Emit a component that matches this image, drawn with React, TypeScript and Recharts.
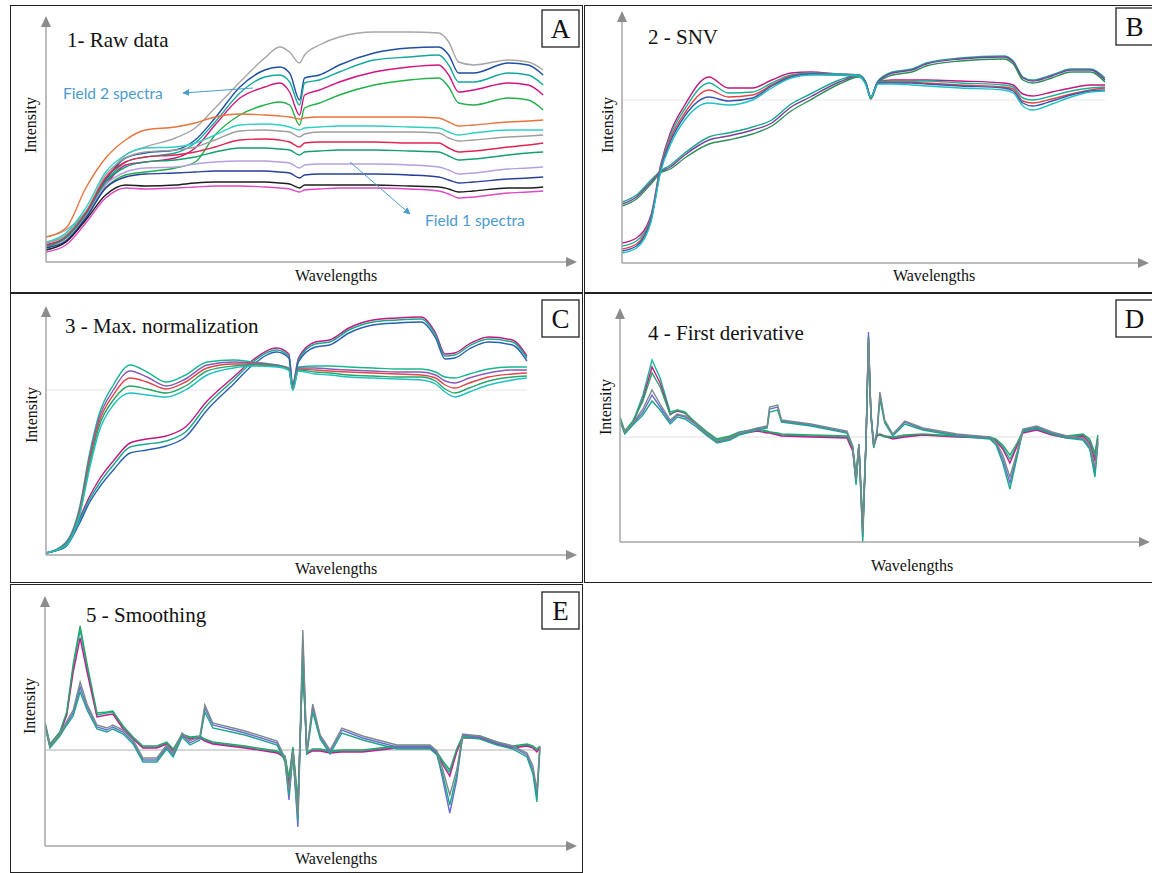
import React from "react"
import { LineChart, Line, XAxis, YAxis, ReferenceLine } from "recharts"

// ---- 1: raw data (band index, intensity) ----
const rawBands = [0, 4, 8, 12, 16, 20, 26, 30, 34, 39, 44, 47, 49, 51, 52, 55, 59, 66, 73, 79, 81, 83, 86, 93, 97, 100]
const rawField2 = {
  f2a: [25, 32, 50, 84, 107, 115, 124, 134, 154, 180, 204, 215, 210, 199, 207, 217, 225, 230, 230, 229, 220, 200, 197, 202, 200, 192],
  f2b: [17, 25, 49, 82, 104, 109, 112, 122, 144, 175, 192, 195, 189, 162, 184, 187, 197, 209, 214, 215, 207, 189, 189, 199, 197, 187],
  f2c: [19, 27, 50, 80, 100, 105, 109, 119, 140, 169, 185, 187, 180, 157, 179, 182, 190, 202, 205, 207, 197, 180, 180, 189, 187, 177],
  f2d: [15, 24, 47, 77, 97, 100, 104, 114, 137, 164, 175, 179, 170, 147, 167, 172, 180, 190, 195, 197, 187, 170, 172, 179, 177, 167],
  f2e: [12, 20, 44, 74, 87, 90, 94, 100, 127, 147, 157, 160, 157, 137, 154, 159, 167, 177, 182, 184, 175, 159, 157, 164, 162, 152],
}
const rawField1 = {
  f1a: [25, 34, 74, 104, 122, 132, 135, 139, 145, 148, 147, 146, 145, 143, 144, 145, 145, 145, 145, 144, 140, 136, 137, 140, 141, 142],
  f1b: [20, 29, 54, 90, 107, 114, 115, 119, 127, 137, 138, 137, 135, 132, 134, 135, 136, 136, 135, 134, 130, 127, 129, 132, 132, 132],
  f1c: [19, 27, 50, 87, 104, 110, 112, 115, 122, 131, 132, 131, 130, 125, 128, 130, 130, 130, 130, 129, 124, 121, 122, 125, 126, 127],
  f1d: [17, 25, 49, 84, 100, 105, 107, 110, 115, 122, 123, 122, 120, 115, 119, 120, 120, 120, 119, 119, 114, 110, 111, 115, 117, 119],
  f1e: [15, 24, 47, 80, 95, 100, 102, 105, 110, 114, 114, 113, 112, 107, 110, 111, 112, 112, 111, 110, 106, 102, 103, 107, 109, 110],
  f1f: [14, 22, 45, 77, 90, 94, 95, 98, 100, 101, 101, 100, 99, 94, 97, 98, 98, 98, 97, 95, 92, 88, 89, 93, 94, 95],
  f1g: [14, 21, 44, 74, 85, 88, 89, 90, 91, 91, 91, 90, 89, 84, 87, 88, 88, 88, 87, 85, 82, 79, 80, 83, 84, 85],
  f1h: [12, 20, 42, 67, 77, 76, 77, 79, 80, 80, 80, 79, 78, 74, 77, 77, 77, 77, 76, 75, 73, 70, 71, 74, 74, 75],
  f1i: [10, 17, 39, 64, 74, 73, 74, 75, 76, 76, 75, 74, 73, 70, 72, 73, 74, 74, 73, 71, 68, 64, 65, 69, 70, 71],
}

// ---- 2: SNV ----
const snvBands = [0, 3, 6, 8, 10, 13, 18, 22, 27, 31, 35, 39, 45, 49, 50.5, 51.5, 53, 56, 60, 63, 70, 79, 81, 83, 85, 89, 93, 97, 100]
const snvGentle = {
  g1: [61, 68, 83, 92, 98, 110, 126, 130, 136, 143, 159, 169, 183, 188, 181, 166, 182, 191, 194, 200, 205, 207, 202, 186, 183, 188, 194, 194, 185],
  g2: [59, 66, 81, 91, 96, 108, 123, 127, 133, 140, 156, 166, 181, 187, 180, 165, 181, 190, 193, 199, 204, 206, 201, 185, 182, 187, 193, 193, 183],
  g3: [57, 64, 79, 90, 94, 105, 119, 123, 129, 137, 152, 163, 179, 186, 179, 164, 180, 188, 191, 197, 202, 204, 199, 183, 180, 185, 191, 191, 181],
}
const snvSteep = {
  s1: [20, 25, 48, 98, 130, 158, 186, 175, 175, 183, 190, 191, 189, 188, 180, 165, 181, 183, 183, 183, 182, 180, 178, 169, 167, 171, 175, 178, 178],
  s2: [17, 22, 46, 96, 127, 154, 180, 170, 171, 180, 188, 190, 189, 188, 180, 165, 181, 182, 182, 182, 180, 178, 176, 165, 163, 167, 172, 175, 176],
  s3: [14, 19, 44, 94, 124, 150, 173, 166, 168, 178, 187, 189, 188, 187, 179, 166, 180, 181, 181, 180, 178, 176, 174, 162, 160, 164, 169, 173, 175],
  s4: [12, 17, 43, 93, 121, 147, 166, 162, 165, 177, 186, 189, 188, 187, 179, 166, 180, 180, 180, 179, 177, 175, 172, 160, 157, 162, 168, 172, 173],
  s5: [10, 15, 41, 91, 118, 143, 160, 158, 163, 175, 185, 188, 188, 187, 178, 166, 179, 179, 178, 177, 175, 173, 170, 157, 153, 159, 166, 171, 172],
}

// ---- 3: max normalization ----
const maxBands = [0, 4, 7, 9, 11, 14, 17.5, 21, 25, 29, 33.5, 39, 43, 48, 50.5, 51.3, 52.5, 56, 59, 63, 68, 73, 78, 81, 83, 85, 88, 92, 97, 100]
const maxGentle = {
  g1: [2, 9, 37, 58, 75, 94, 112, 116, 119, 128, 154, 178, 195, 207, 201, 171, 197, 213, 215, 227, 235, 237, 238, 222, 201, 202, 211, 218, 215, 199],
  g2: [2, 8, 35, 55, 71, 90, 108, 111, 114, 123, 150, 175, 193, 205, 199, 170, 195, 211, 213, 225, 233, 235, 236, 220, 199, 200, 209, 216, 213, 197],
  g3: [2, 8, 32, 52, 67, 85, 102, 105, 109, 118, 145, 171, 190, 203, 197, 169, 193, 208, 210, 222, 230, 232, 233, 217, 196, 197, 206, 213, 210, 194],
}
const maxSteep = {
  s1: [2, 12, 48, 100, 140, 170, 190, 183, 173, 180, 193, 195, 193, 190, 187, 167, 188, 189, 189, 188, 187, 186, 186, 183, 178, 177, 181, 186, 188, 188],
  s2: [2, 11, 46, 96, 136, 165, 184, 178, 169, 176, 190, 193, 192, 190, 186, 166, 187, 187, 186, 185, 184, 183, 183, 180, 174, 172, 177, 182, 185, 185],
  s3: [2, 10, 44, 93, 132, 160, 177, 173, 166, 173, 187, 191, 191, 189, 186, 166, 186, 185, 184, 183, 182, 181, 180, 177, 170, 167, 172, 178, 181, 182],
  s4: [2, 10, 42, 89, 128, 155, 169, 166, 162, 169, 184, 189, 190, 189, 185, 165, 185, 183, 182, 180, 179, 178, 178, 174, 166, 162, 167, 174, 178, 179],
  s5: [2, 9, 40, 85, 123, 150, 162, 160, 158, 165, 180, 187, 189, 188, 185, 165, 184, 181, 180, 178, 177, 176, 175, 171, 163, 158, 163, 170, 175, 177],
}

// ---- 4: first derivative ----
const derBands = [0, 1, 2.7, 4.8, 6.7, 8.4, 10.5, 12, 13.6, 16, 18, 20.3, 23, 25, 28.7, 30.8, 31.3, 33, 33.8, 40, 47.5, 48.7, 49.4, 50, 50.8, 51.5, 52, 52.5, 53.1, 53.8, 54.4, 55.4, 57.1, 59.6, 63.4, 70.5, 77.4, 78.7, 80.1, 81.6, 83.1, 84.3, 87.2, 90.4, 93.5, 96.9, 98.3, 99.4, 100]
const derField1 = {
  h1: [19, 5, 15, 42, 77, 59, 25, 27, 25, 13, 5, -3, 0, 4, 7, 5, 5, 3, 2, 1, 0, -12, -40, -8, -90, -3, 95, 25, -8, 2, 2, 0, -1, 1, 2, 1, 0, -3, -10, -22, -8, 5, 8, 3, 0, 2, -4, -20, 0],
  h2: [18, 4, 14, 38, 70, 54, 23, 26, 24, 12, 4, -5, -1, 3, 6, 4, 4, 2, 1, 0, -1, -14, -45, -9, -95, -4, 100, 24, -9, 1, 3, 1, -2, 0, 2, 0, -1, -4, -12, -26, -9, 4, 7, 2, -1, 1, -6, -24, -2],
  h3: [20, 6, 16, 36, 64, 50, 22, 27, 24, 14, 6, -2, 1, 5, 8, 6, 5, 4, 3, 2, 1, -10, -36, -7, -85, -2, 90, 26, -7, 3, 2, 1, 0, 2, 3, 1, 0, -2, -8, -18, -6, 6, 9, 4, 1, 3, -2, -16, 2],
}
const derField2 = {
  l1: [17, 4, 13, 25, 42, 30, 15, 22, 20, 12, 3, -5, -2, 3, 8, 10, 28, 30, 16, 12, 5, -10, -45, -8, -100, -2, 105, 22, -10, 5, 42, 16, 2, 15, 8, 2, -1, -6, -22, -46, -18, 7, 10, 4, 0, -2, -10, -35, -5],
  l2: [16, 3, 12, 22, 36, 27, 13, 20, 18, 10, 2, -6, -3, 2, 7, 9, 25, 27, 15, 11, 4, -11, -48, -9, -105, -3, 100, 20, -11, 4, 38, 14, 1, 13, 7, 1, -2, -8, -26, -52, -20, 6, 9, 3, -1, -3, -12, -40, -7],
  l3: [18, 5, 14, 28, 47, 33, 17, 23, 21, 13, 4, -4, -1, 4, 9, 11, 30, 32, 17, 13, 6, -9, -42, -7, -95, -1, 98, 23, -9, 6, 45, 17, 3, 16, 9, 3, 0, -5, -18, -40, -15, 8, 11, 5, 1, -1, -8, -30, -4],
}

// ---- 5: smoothing ----
const smoBands = [0, 1, 3, 4.4, 5.7, 7.1, 8.5, 10.5, 12.5, 13.7, 15.8, 17.8, 19.8, 22.6, 24.6, 25.9, 27.7, 29.3, 31.3, 32.3, 33.9, 40.4, 46.9, 48.5, 49.3, 50.1, 51.1, 52.1, 52.9, 54.1, 55.6, 57.6, 60, 64.2, 71.1, 77.8, 79.2, 80.4, 81.8, 83.2, 84.4, 87.9, 91.3, 94.5, 97.4, 98.6, 99.4, 100]
const smoField1 = {
  h1: [27, 5, 17, 37, 83, 120, 83, 35, 37, 38, 23, 12, 3, 3, 7, 0, 15, 12, 13, 10, 7, 3, -2, -7, -30, 2, -55, 90, -3, 0, 0, -2, -1, -1, 3, 3, -3, -13, -23, 0, 13, 13, 7, 3, 5, 3, 0, 3],
  h2: [25, 4, 16, 35, 78, 112, 78, 33, 35, 36, 21, 11, 2, 2, 6, -1, 14, 11, 12, 9, 6, 2, -3, -8, -34, 1, -60, 95, -4, -1, -1, -3, -2, -2, 2, 2, -4, -15, -26, -2, 12, 12, 6, 2, 4, 2, -2, 2],
  h3: [28, 6, 18, 38, 86, 124, 86, 37, 38, 39, 24, 13, 4, 4, 8, 1, 16, 13, 14, 11, 8, 4, -1, -6, -28, 3, -50, 85, -2, 1, 1, -1, 0, 0, 4, 4, -2, -11, -20, 1, 14, 14, 8, 4, 6, 4, 1, 4],
}
const smoField2 = {
  l1: [25, 3, 15, 27, 37, 63, 43, 23, 20, 23, 18, 8, -10, -10, 3, -5, 15, 7, 12, 42, 25, 17, 7, -10, -50, -3, -77, 110, -3, 43, 13, -2, 20, 12, 3, 3, -3, -30, -63, -30, 15, 13, 7, 3, -5, -20, -47, 3],
  l2: [24, 2, 14, 25, 34, 58, 40, 21, 18, 21, 16, 6, -12, -12, 1, -7, 13, 5, 10, 38, 22, 15, 5, -12, -45, -5, -70, 100, -5, 38, 11, -4, 17, 10, 1, 1, -5, -25, -55, -25, 13, 11, 5, 1, -7, -24, -52, 0],
  l3: [26, 4, 16, 29, 40, 68, 46, 25, 22, 25, 20, 10, -8, -8, 5, -3, 17, 9, 14, 45, 27, 19, 9, -8, -40, -1, -65, 120, -1, 46, 15, 0, 22, 14, 5, 5, -1, -20, -45, -20, 16, 14, 8, 4, -3, -16, -40, 4],
}

type SeriesMap = Record<string, number[]>

interface PanelDef {
  letter: string
  title: string
  frame: { x: number; y: number; w: number; h: number }
  axisX: number
  axisY: number
  topY: number
  rightX: number
  xMax: number
  yDomain: [number, number]
  bands: number[]
  series: SeriesMap
  colors: string[]
  curve: "monotone" | "linear"
  refY?: number
  refColor?: string
  titleAt: [number, number]
  labelAt: [number, number]
  waveAt: [number, number]
  intensityAt: [number, number]
}

const panels: PanelDef[] = [
  {
    letter: "A", title: "1- Raw data",
    frame: { x: 10, y: 5, w: 573, h: 288 },
    axisX: 46, axisY: 262, topY: 18, rightX: 575, xMax: 106.4, yDomain: [0, 244],
    bands: rawBands, series: { ...rawField2, ...rawField1 },
    colors: ["#a6a6a6", "#1f4fa0", "#12a89a", "#d0157e", "#22b04b", "#e8743b", "#2fd0c4", "#9e9e9e", "#e0264f", "#169e6e", "#b79fe0", "#28409a", "#1e1e1e", "#e048c6"],
    curve: "monotone",
    titleAt: [67, 47], labelAt: [542, 10], waveAt: [336, 281], intensityAt: [30, 125],
  },
  {
    letter: "B", title: "2 - SNV",
    frame: { x: 584, y: 5, w: 580, h: 288 },
    axisX: 622, axisY: 263, topY: 13, rightX: 1147, xMax: 108.7, yDomain: [0, 250],
    bands: snvBands, series: { ...snvGentle, ...snvSteep },
    colors: ["#19a88c", "#7b3fa0", "#2c8f5a", "#c2187f", "#19b39b", "#e0464a", "#3a57b0", "#20c0c0"],
    curve: "monotone", refY: 163, refColor: "#e6e6e6",
    titleAt: [648, 44], labelAt: [1116, 8], waveAt: [934, 281], intensityAt: [607, 125],
  },
  {
    letter: "C", title: "3 - Max. normalization",
    frame: { x: 10, y: 293, w: 573, h: 290 },
    axisX: 46, axisY: 555, topY: 308, rightX: 575, xMax: 110, yDomain: [0, 247],
    bands: maxBands, series: { ...maxGentle, ...maxSteep },
    colors: ["#c2187f", "#19a88c", "#2a60b0", "#17b890", "#8a58b8", "#e0464a", "#2aa56a", "#20c0c0"],
    curve: "monotone", refY: 165, refColor: "#e6e6e6",
    titleAt: [65, 333], labelAt: [542, 300], waveAt: [336, 574], intensityAt: [31, 415],
  },
  {
    letter: "D", title: "4 - First derivative",
    frame: { x: 584, y: 293, w: 580, h: 290 },
    axisX: 620, axisY: 542, topY: 310, rightX: 1148, xMax: 110.5, yDomain: [-105, 127],
    bands: derBands, series: { ...derField1, ...derField2 },
    colors: ["#17b890", "#c01f8f", "#2aa56a", "#6b6bd6", "#1fa58a", "#7a8a8a"],
    curve: "linear", refY: 0, refColor: "#e0e0e0",
    titleAt: [648, 340], labelAt: [1116, 300], waveAt: [912, 571], intensityAt: [605, 407],
  },
  {
    letter: "E", title: "5 - Smoothing",
    frame: { x: 10, y: 584, w: 573, h: 289 },
    axisX: 45, axisY: 846, topY: 598, rightX: 575, xMax: 107.1, yDomain: [-96, 152],
    bands: smoBands, series: { ...smoField1, ...smoField2 },
    colors: ["#17b890", "#c01f8f", "#2aa56a", "#6b6bd6", "#1fa58a", "#7a8a8a"],
    curve: "linear", refY: 0, refColor: "#b0b0b0",
    titleAt: [86, 622], labelAt: [542, 592], waveAt: [336, 864], intensityAt: [29, 706],
  },
]

const PAD = 4
const AXIS = "#a6a6a6"
const serif = { fontFamily: "Liberation Serif, serif" }
const sans = { fontFamily: "Lato, sans-serif" }

function PanelChart({ p }: { p: PanelDef }) {
  const keys = Object.keys(p.series)
  const rows = p.bands.map((b, i) => {
    const row: Record<string, number> = { b }
    keys.forEach((k) => { row[k] = p.series[k][i] })
    return row
  })
  const w = p.rightX - p.axisX + PAD * 2
  const h = p.axisY - p.topY + PAD * 2
  return (
    <div style={{ position: "absolute", left: p.axisX - PAD, top: p.topY - PAD }}>
      <LineChart width={w} height={h} data={rows} margin={{ top: PAD, right: PAD, bottom: 0, left: 0 }}>
        <XAxis type="number" dataKey="b" domain={[0, p.xMax]} allowDataOverflow
          tick={false} tickLine={false} height={PAD} axisLine={{ stroke: AXIS, strokeWidth: 1.5 }} />
        <YAxis type="number" domain={p.yDomain} allowDataOverflow
          tick={false} tickLine={false} width={PAD} axisLine={{ stroke: AXIS, strokeWidth: 1.5 }} />
        {p.refY !== undefined && (
          <ReferenceLine segment={[{ x: 0, y: p.refY }, { x: 100, y: p.refY }]} stroke={p.refColor} strokeWidth={1} />
        )}
        {keys.map((k, i) => (
          <Line key={k} type={p.curve} dataKey={k} stroke={p.colors[i % p.colors.length]}
            strokeWidth={1.4} dot={false} activeDot={false} isAnimationActive={false} />
        ))}
      </LineChart>
    </div>
  )
}

function Decorations({ p }: { p: PanelDef }) {
  const [lx, ly] = p.labelAt
  const [ix, iy] = p.intensityAt
  return (
    <g>
      <polygon points={`${p.axisX},${p.topY - 2} ${p.axisX - 5},${p.topY + 9} ${p.axisX + 5},${p.topY + 9}`} fill="#8c8c8c" />
      <polygon points={`${p.rightX + 2},${p.axisY} ${p.rightX - 9},${p.axisY - 5} ${p.rightX - 9},${p.axisY + 5}`} fill="#8c8c8c" />
      <text x={p.titleAt[0]} y={p.titleAt[1]} style={serif} fontSize={21} fill="#111">{p.title}</text>
      <rect x={lx} y={ly} width={37} height={37} fill="#fff" stroke="#222" strokeWidth={1.3} />
      <text x={lx + 18.5} y={ly + 28} textAnchor="middle" style={serif} fontSize={27} fill="#111">{p.letter}</text>
      <text x={p.waveAt[0]} y={p.waveAt[1]} textAnchor="middle" style={serif} fontSize={16} fill="#111">Wavelengths</text>
      <text x={ix} y={iy} textAnchor="middle" dominantBaseline="central"
        transform={`rotate(-90 ${ix} ${iy})`} style={serif} fontSize={16} fill="#111">Intensity</text>
    </g>
  )
}

export default function App() {
  const note = "#4a9bd0"
  return (
    <div style={{ position: "absolute", left: 0, top: 0, width: 1152, height: 873, overflow: "hidden", background: "#fff" }}>
      {panels.map((p) => (
        <div key={p.letter} style={{
          position: "absolute", left: p.frame.x, top: p.frame.y, width: p.frame.w, height: p.frame.h,
          border: "1.5px solid #222", boxSizing: "border-box",
        }} />
      ))}
      {panels.map((p) => <PanelChart key={p.letter} p={p} />)}
      <svg width={1152} height={873} style={{ position: "absolute", left: 0, top: 0, pointerEvents: "none" }}>
        <defs>
          <marker id="noteArrow" viewBox="0 0 10 10" refX="9" refY="5" markerWidth="7" markerHeight="7" orient="auto">
            <path d="M0,0 L10,5 L0,10 z" fill={note} />
          </marker>
        </defs>
        {panels.map((p) => <Decorations key={p.letter} p={p} />)}
        <text x={63} y={99} style={sans} fontSize={15.5} fill={note}>Field 2 spectra</text>
        <line x1={253} y1={88} x2={183} y2={93} stroke={note} strokeWidth={1} markerEnd="url(#noteArrow)" />
        <text x={425} y={226} style={sans} fontSize={15.5} fill={note}>Field 1 spectra</text>
        <line x1={350} y1={162} x2={410} y2={214} stroke={note} strokeWidth={1} markerEnd="url(#noteArrow)" />
      </svg>
    </div>
  )
}
